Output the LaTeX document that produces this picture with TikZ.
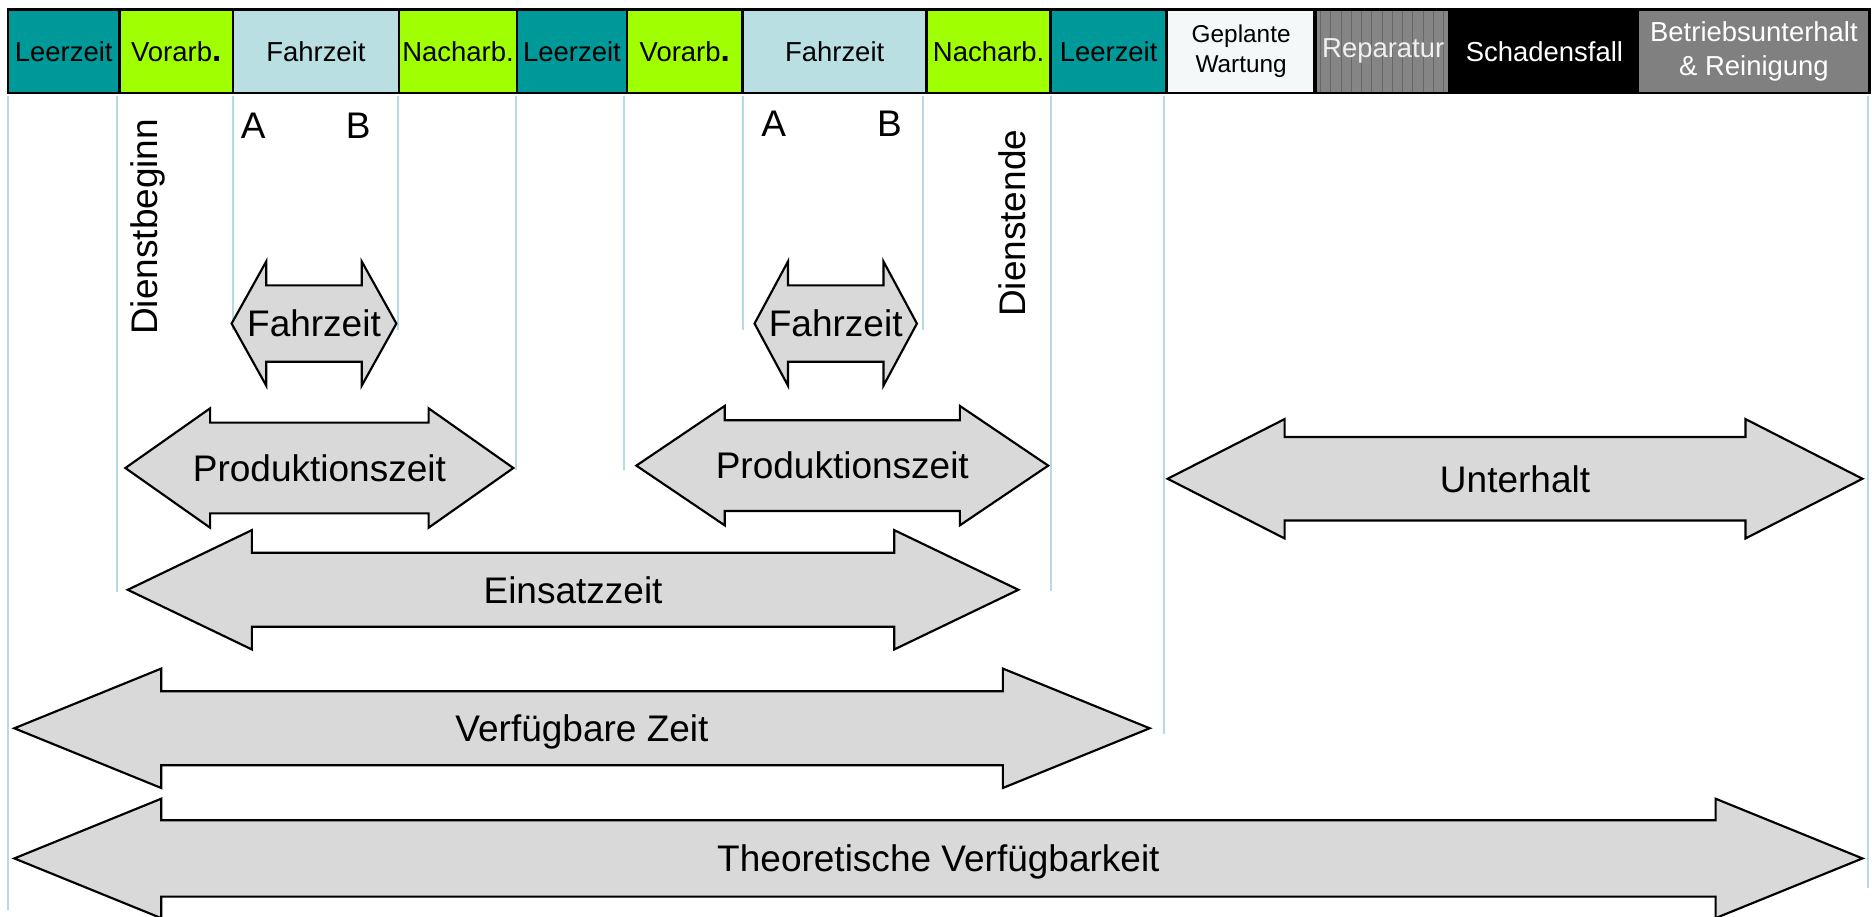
\documentclass[tikz,border=0pt]{standalone}
\usepackage{fontspec}
\setmainfont{Liberation Sans}
\definecolor{tealbox}{HTML}{009999}
\definecolor{limebox}{HTML}{A0FF00}
\definecolor{bluebox}{HTML}{B9DFE3}
\definecolor{planbox}{HTML}{F5F8F8}
\definecolor{repbox}{HTML}{858585}
\definecolor{repline}{HTML}{666666}
\definecolor{betbox}{HTML}{808080}
\definecolor{arrgray}{HTML}{D9D9D9}
\definecolor{vlinec}{HTML}{B4DCE0}
\newcommand{\barbox}[6]{%
  \node[barbox, fill=#4, text=#5, minimum width={(#3-#2)*0.5pt}, anchor=west] (#1) at (#2,43) {#6};}
\newcommand{\dblarr}[8]{%
  \draw[arrshape] (#2,#4) -- ({#2+#7},{#4-#5}) -- ({#2+#7},{#4-#6}) -- ({#3-#7},{#4-#6}) -- ({#3-#7},{#4-#5}) -- (#3,#4) -- ({#3-#7},{#4+#5}) -- ({#3-#7},{#4+#6}) -- ({#2+#7},{#4+#6}) -- ({#2+#7},{#4+#5}) -- cycle;
  \node[arrlbl] (#1) at ({(#2+#3)/2},#4) {#8};}
\begin{document}
\begin{tikzpicture}[x=0.5pt,y=-0.5pt,
  barbox/.style={draw=black, line width=1.1pt, inner sep=0pt, minimum height=35pt, align=center,
    font=\fontsize{11.5pt}{14pt}\selectfont},
  arrshape/.style={draw=black, line width=0.9pt, fill=arrgray, line join=miter},
  biglbl/.style={font=\fontsize{15.5pt}{18pt}\selectfont, inner sep=0pt},
  arrlbl/.style={biglbl, text height=11.1pt, text depth=0pt},
  vline/.style={draw=vlinec, line width=0.85pt}]
\useasboundingbox (0,0) rectangle (1568,768);
% guide lines
\draw[vline] (7,80) -- (7,762);
\draw[vline] (98,80) -- (98,496);
\draw[vline] (195,80) -- (195,276);
\draw[vline] (333,80) -- (333,276);
\draw[vline] (432,80) -- (432,394);
\draw[vline] (523,80) -- (523,394);
\draw[vline] (622,80) -- (622,276);
\draw[vline] (773,80) -- (773,276);
\draw[vline] (880,80) -- (880,495);
\draw[vline] (975,80) -- (975,615);
\draw[vline] (1565,80) -- (1565,744);
% top bar
\barbox{b1}{5.5}{99}{tealbox}{black}{Leerzeit}
\barbox{b2}{99}{194}{limebox}{black}{Vorarb{\fontsize{14pt}{14pt}\selectfont\bfseries .}}
\barbox{b3}{194}{333}{bluebox}{black}{Fahrzeit}
\barbox{b4}{333}{432}{limebox}{black}{Nacharb.}
\barbox{b5}{432}{524}{tealbox}{black}{Leerzeit}
\barbox{b6}{524}{621}{limebox}{black}{Vorarb{\fontsize{14pt}{14pt}\selectfont\bfseries .}}
\barbox{b7}{621}{775}{bluebox}{black}{Fahrzeit}
\barbox{b8}{775}{879}{limebox}{black}{Nacharb.}
\barbox{b9}{879}{976}{tealbox}{black}{Leerzeit}
\node[barbox, fill=planbox, minimum width={(1101-976)*0.5pt}, anchor=west,
  font=\fontsize{10.2pt}{12.5pt}\selectfont] (b10) at (976,43) {Geplante\\Wartung};
\barbox{b11}{1101}{1214}{repbox}{black}{}
\foreach \xx in {1106,1114.6,...,1212} \draw[repline, line width=0.35pt] (\xx,9) -- (\xx,77);
\node[text=white!88!gray, font=\fontsize{11.5pt}{14pt}\selectfont] (rep) at (b11.center) {Reparatur};
\draw[black, line width=1.1pt] (1101,8) rectangle (1214,78);
\barbox{b12}{1214}{1371}{black}{white}{Schadensfall}
\barbox{b13}{1371}{1565}{betbox}{white}{Betriebsunterhalt\\\& Reinigung}
% labels
\node[biglbl] (A1) at (212,105) {A};
\node[biglbl] (B1) at (300,105) {B};
\node[biglbl] (A2) at (648,104) {A};
\node[biglbl] (B2) at (745,104) {B};
\node[biglbl, rotate=90] (db) at (124,190) {Dienstbeginn};
\node[biglbl, rotate=90] (de) at (848,187) {Dienstende};
% arrows
\dblarr{fz1}{194}{332}{271}{52}{32}{29}{Fahrzeit}
\dblarr{fz2}{632}{768}{271}{52}{32}{28}{Fahrzeit}
\dblarr{pz1}{105}{430}{392}{50}{38}{71}{Produktionszeit}
\dblarr{pz2}{533}{878}{390}{50}{38}{74}{Produktionszeit}
\dblarr{uh}{978}{1560}{401}{50}{35}{98}{Unterhalt}
\dblarr{ez}{107}{853}{494}{50}{31}{104}{Einsatzzeit}
\dblarr{vz}{12}{963}{610}{50}{31}{123}{Verfügbare Zeit}
\dblarr{tv}{12}{1560}{719}{50}{32}{123}{Theoretische Verfügbarkeit}
\end{tikzpicture}
\end{document}
